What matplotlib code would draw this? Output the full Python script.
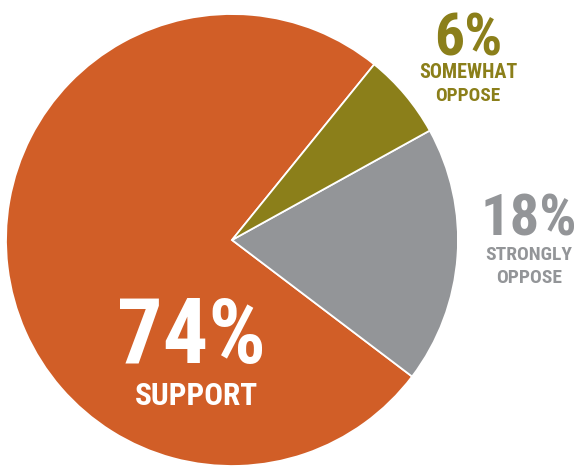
import numpy as np
import matplotlib.pyplot as plt

# données du graphique
labels = ["SUPPORT", "STRONGLY\nOPPOSE", "SOMEWHAT\nOPPOSE"]
values = [74, 18, 6]
colors = ["#D15E27", "#939598", "#8B7F1A"]

plt.rcParams['font.family'] = ['Liberation Sans Narrow', 'DejaVu Sans Condensed',
                               'Roboto Condensed', 'Roboto', 'DejaVu Sans']
plt.rcParams['font.stretch'] = 'condensed'

W, H = 580, 468
fig = plt.figure(figsize=(W / 100, H / 100), dpi=100)
ax = fig.add_axes([0, 0, 1, 1])

cx, cy, r = 232, H - 240, 226
ax.pie(values, colors=colors, startangle=51.0, counterclock=True,
       center=(cx, cy), radius=r, frame=True,
       wedgeprops=dict(edgecolor='white', linewidth=1.3))
ax.set_xlim(0, W)
ax.set_ylim(0, H)
ax.set_aspect('equal')
ax.axis('off')

rend = fig.canvas.get_renderer()

def put(x, y, s, size, width, color):
    # taille réduite si la police est trop large pour la place voulue
    t = ax.text(x, H - y, s, fontsize=size, color=color, fontweight='bold',
                ha='center', va='baseline')
    w = t.get_window_extent(rend).width
    if w > width * 1.08:
        t.set_fontsize(size * width * 1.08 / w)
    return t

# support
put(192, 363, f"{values[0]}%", 65, 152, 'white')
put(196, 405, labels[0], 22.5, 114, 'white')
# strongly oppose
put(529, 235, f"{values[1]}%", 42, 101, colors[1])
for i, (part, w) in enumerate(zip(labels[1].split("\n"), [83, 62])):
    put(529, 260 + 23 * i, part, 14, w, colors[1])
# somewhat oppose
put(468, 55, f"{values[2]}%", 43, 75, colors[2])
for i, (part, w) in enumerate(zip(labels[2].split("\n"), [91, 60])):
    put(468, 78 + 23 * i, part, 14.8, w, colors[2])

fig.savefig("out.png", dpi=100)
